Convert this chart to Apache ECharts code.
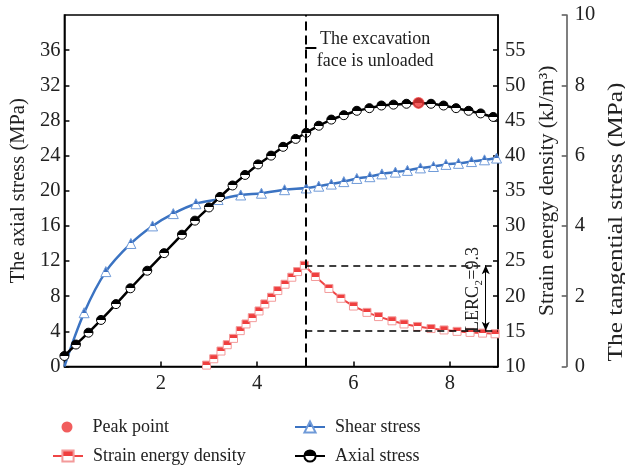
<!DOCTYPE html>
<html><head><meta charset="utf-8">
<script src="https://cdn.jsdelivr.net/npm/echarts@6/dist/echarts.min.js"></script>
<style>html,body{margin:0;padding:0;background:#fff}#c{width:625px;height:473px}</style>
</head><body><div id="c"></div>
<script>
// ---- data ----
const axialX = [0, 0.24, 0.50, 0.76, 1.07, 1.37, 1.72, 2.07, 2.44, 2.71, 3.0, 3.23, 3.49, 3.75, 4.02, 4.29, 4.54, 4.80, 5.02, 5.28, 5.54, 5.80, 6.07, 6.33, 6.58, 6.83, 7.10, 7.35, 7.61, 7.87, 8.13, 8.39, 8.64, 8.90];
const axialY = [1.2, 2.5, 3.85, 5.3, 7.1, 8.9, 10.9, 12.9, 15.0, 16.6, 18.1, 19.3, 20.6, 21.8, 23.0, 24.0, 25.0, 25.9, 26.6, 27.4, 28.1, 28.6, 29.1, 29.4, 29.7, 29.8, 29.9, 30.0, 29.9, 29.7, 29.4, 29.1, 28.8, 28.4];
const shearX = [0, 0.41, 0.86, 1.38, 1.83, 2.26, 2.73, 3.19, 3.66, 4.09, 4.57, 5.02, 5.28, 5.54, 5.80, 6.07, 6.34, 6.59, 6.87, 7.12, 7.39, 7.66, 7.92, 8.18, 8.45, 8.72, 8.97];
const shearY = [0, 1.53, 2.7, 3.5, 4.0, 4.35, 4.63, 4.75, 4.88, 4.93, 5.03, 5.08, 5.13, 5.19, 5.26, 5.35, 5.4, 5.48, 5.53, 5.58, 5.65, 5.69, 5.75, 5.78, 5.83, 5.88, 5.93];
const strainX = [2.95, 3.1, 3.25, 3.38, 3.51, 3.65, 3.77, 3.9, 4.04, 4.16, 4.3, 4.43, 4.58, 4.72, 4.84, 4.98, 5.21, 5.49, 5.74, 6.0, 6.28, 6.52, 6.80, 7.05, 7.33, 7.61, 7.88, 8.15, 8.42, 8.68, 8.94];
const strainY = [10.2, 11.1, 12.2, 13.1, 14.0, 15.1, 16.05, 16.95, 17.9, 18.9, 19.85, 20.8, 21.7, 22.7, 23.5, 24.4, 22.8, 21.1, 19.7, 18.6, 17.7, 17.1, 16.5, 16.05, 15.7, 15.4, 15.2, 15.0, 14.85, 14.75, 14.65];
const peakPoint = [7.35, 30.0];
const unloadX = 5;
const strainPeak = 24.4;
const strainResidual = 15.1;
const lercLabel = 'LERC\u2082=9.3';
const seriesNames = ['Peak point', 'Strain energy density', 'Shear stress', 'Axial stress'];
const axisNames = ['The axial stress (MPa)', 'Strain energy density (kJ/m\u00b3)', 'The tangential stress (MPa)'];
const annotationText = 'The excavation\nface is unloaded';

const FONT = 'Liberation Serif';
function half(top, bottom) {
  return {type:'linear', x:0, y:0, x2:0, y2:1, colorStops:[
    {offset:0, color:top},{offset:0.5, color:top},{offset:0.5, color:bottom},{offset:1, color:bottom}]};
}
const pairs = (xs, ys) => xs.map((x, i) => [x, ys[i]]);
const tickLab = {color:'#222', fontSize:20.5, fontFamily:FONT};

const chart = echarts.init(document.getElementById('c'), null, {renderer:'canvas'});
const option = {
  animation: false,
  grid: {left:62, right:127, top:15, bottom:106.5, show:true, borderColor:'#000', borderWidth:1.5, backgroundColor:'transparent'},
  legend: [
    {data:[seriesNames[0]], left:61.5, top:418, padding:0, itemWidth:11, itemHeight:11,
     textStyle:{fontSize:18, fontFamily:FONT, color:'#222', padding:[0,0,0,15]}, selectedMode:false},
    {data:[seriesNames[1]], left:52, top:447, padding:0, itemWidth:30, itemHeight:14,
     textStyle:{fontSize:18, fontFamily:FONT, color:'#222', padding:[0,0,0,5]}, selectedMode:false},
    {data:[seriesNames[2], seriesNames[3]], orient:'vertical', left:294, top:418, padding:0, itemGap:11, itemWidth:30, itemHeight:14,
     textStyle:{fontSize:18, fontFamily:FONT, color:'#222', padding:[0,0,0,5]}, selectedMode:false}
  ],
  xAxis: {type:'value', min:0, max:9, interval:2,
    axisLine:{lineStyle:{color:'#000', width:1.5}},
    axisTick:{inside:true, length:5, lineStyle:{color:'#000', width:1.5}},
    axisLabel:Object.assign({margin:7, showMinLabel:false, showMaxLabel:false}, tickLab),
    splitLine:{show:false}},
  yAxis: [
    {type:'value', min:0, max:40, interval:4, position:'left',
     name:axisNames[0], nameLocation:'middle', nameGap:32, nameRotate:90,
     nameTextStyle:{fontSize:20.5, fontFamily:FONT, color:'#222'},
     axisLine:{show:true, lineStyle:{color:'#000', width:1.5}},
     axisTick:{show:true, inside:true, length:5, lineStyle:{color:'#000', width:1.5}},
     axisLabel:Object.assign({margin:4, showMaxLabel:false}, tickLab),
     splitLine:{show:false}},
    {type:'value', min:10, max:60, interval:5, position:'right',
     name:axisNames[1], nameLocation:'middle', nameGap:38, nameRotate:90,
     nameTextStyle:{fontSize:21.5, fontFamily:FONT, color:'#222'},
     axisLine:{show:true, lineStyle:{color:'#000', width:1.5}},
     axisTick:{show:true, inside:true, length:5, lineStyle:{color:'#000', width:1.5}},
     axisLabel:Object.assign({margin:7, showMaxLabel:false}, tickLab),
     splitLine:{show:false}},
    {type:'value', min:0, max:10, interval:2, position:'right', offset:68.7,
     axisLine:{show:true, lineStyle:{color:'#555', width:1.5}},
     axisTick:{show:true, inside:true, length:5, lineStyle:{color:'#555', width:1.5}},
     axisLabel:Object.assign({margin:8}, tickLab),
     splitLine:{show:false}}
  ],
  series: [
    {name:seriesNames[2], type:'line', yAxisIndex:2,
     data:pairs(shearX, shearY).map((p, i) => i === 0 ? {value:p, symbol:'none'} : p),
     smooth:0.35, symbol:'triangle', symbolSize:10, showAllSymbol:true,
     lineStyle:{color:'#3b73c2', width:2.5},
     itemStyle:{color:half('#3b6fc0', '#ffffff'), borderColor:'#6f9ad8', borderWidth:1},
     emphasis:{disabled:true}, z:2},
    {name:seriesNames[3], type:'line', yAxisIndex:0, data:pairs(axialX, axialY),
     smooth:0.2, symbol:'circle', symbolSize:9, showAllSymbol:true,
     lineStyle:{color:'#000', width:2.5},
     itemStyle:{color:half('#000000', '#ffffff'), borderColor:'#000', borderWidth:1},
     emphasis:{disabled:true}, z:3,
     markLine:{silent:true, symbol:['none','none'], label:{show:false}, animation:false,
       lineStyle:{color:'#000', width:2, type:[9,5]},
       data:[
         [{coord:[unloadX, 0]}, {coord:[unloadX, 40]}],
         [{coord:[unloadX, 36.3], lineStyle:{type:'solid', width:2}}, {coord:[unloadX + 0.23, 36.3]}]
       ]}},
    {name:seriesNames[1], type:'line', yAxisIndex:1, data:pairs(strainX, strainY),
     smooth:false, symbol:'rect', symbolSize:8, showAllSymbol:true,
     lineStyle:{color:'#ef4545', width:2},
     itemStyle:{color:half('#ef3f3f', '#ffffff'), borderColor:'#f39a9a', borderWidth:1},
     emphasis:{disabled:true}, z:2,
     markLine:{silent:true, symbol:['none','none'], label:{show:false}, animation:false,
       lineStyle:{color:'#000', width:1.5, type:[7,5]},
       data:[
         [{coord:[unloadX, strainPeak]}, {coord:[8.87, strainPeak]}],
         [{coord:[unloadX, strainResidual]}, {coord:[9, strainResidual]}],
         [{coord:[8.745, strainPeak], symbol:'arrow', symbolSize:[6,9], lineStyle:{type:'solid', width:1}},
          {coord:[8.745, strainResidual], symbol:'arrow', symbolSize:[6,9]}]
       ]}},
    {name:seriesNames[0], type:'scatter', yAxisIndex:0, data:[peakPoint],
     symbol:'circle', symbolSize:12, itemStyle:{color:'#ee3535'}, emphasis:{disabled:true}, z:10}
  ]
};
chart.setOption(option);

// annotations positioned through the chart's own scales
const exX = chart.convertToPixel({xAxisIndex:0}, 6.45);
const exY = chart.convertToPixel({yAxisIndex:0}, 36.0);
const lcX = chart.convertToPixel({xAxisIndex:0}, 8.49);
const lcY = chart.convertToPixel({yAxisIndex:1}, 20.95);
chart.setOption({graphic:[
  {type:'text', x:exX, y:exY, z:100, style:{text:annotationText, font:'18px "' + FONT + '"', fill:'#222', align:'center', verticalAlign:'middle', lineHeight:22}},
  {type:'text', x:lcX, y:lcY, rotation:Math.PI/2, z:100, style:{text:lercLabel, font:'18px "' + FONT + '"', fill:'#222', align:'center', verticalAlign:'middle'}},
  {type:'text', x:616.5, y:222, rotation:Math.PI/2, scaleX:1.15, z:100, style:{text:axisNames[2], font:'22px "' + FONT + '"', fill:'#222', align:'center', verticalAlign:'middle'}}
]});
</script></body></html>
